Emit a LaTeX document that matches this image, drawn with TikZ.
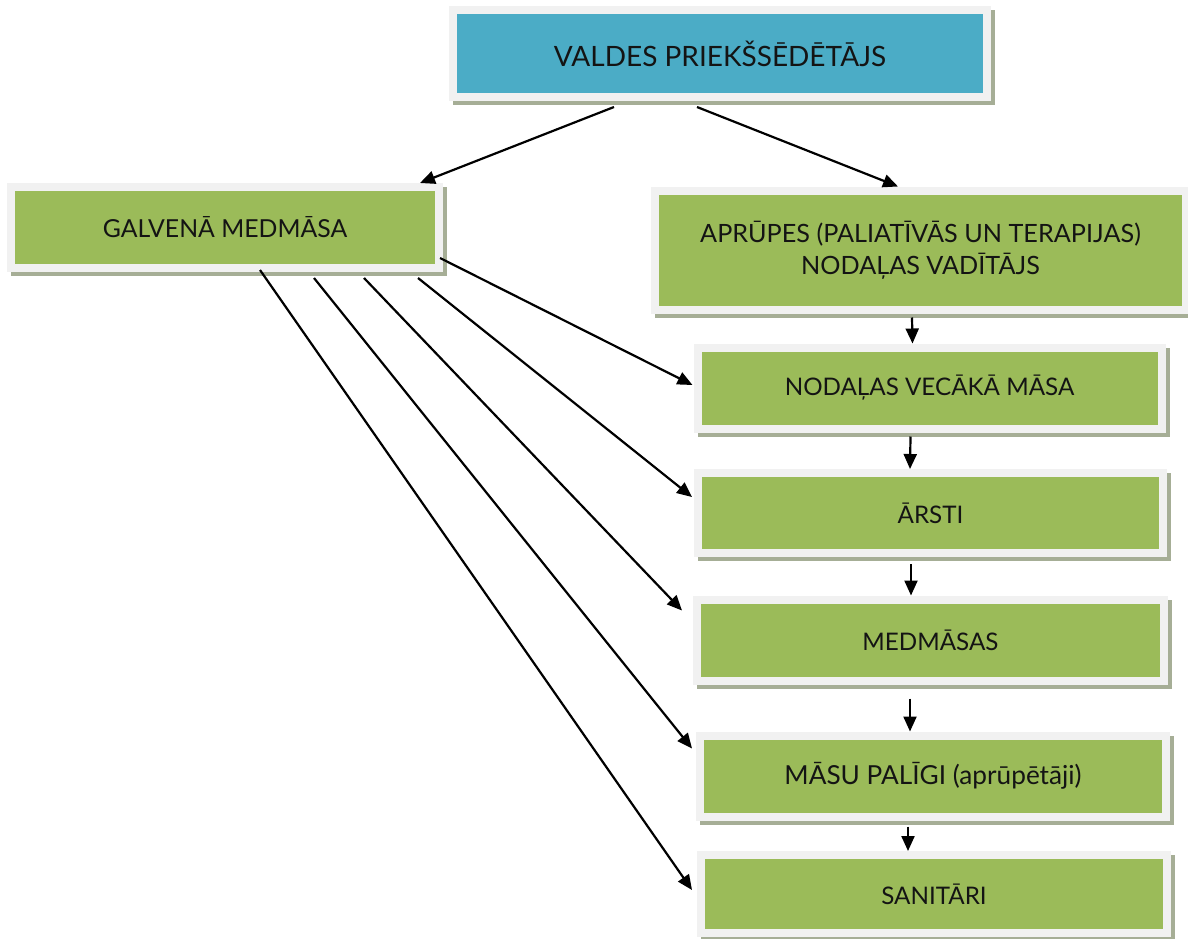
\documentclass[tikz,border=0pt]{standalone}
\usepackage{fontspec}
\setmainfont{Lato}
\usetikzlibrary{arrows.meta,shadows,calc}
\definecolor{boxgreen}{RGB}{155,187,89}
\definecolor{boxblue}{RGB}{75,172,198}
\definecolor{framegray}{RGB}{241,241,241}
\definecolor{shadowgray}{RGB}{166,174,150}
\definecolor{txt}{RGB}{20,20,20}
\begin{document}
\begin{tikzpicture}[x=1pt,y=-1pt,
  orgbox/.style={draw=framegray, line width=8pt, fill=boxgreen, text=txt,
    font=\fontsize{24}{32}\selectfont, align=center, inner sep=0pt,
    drop shadow={shadow xshift=4pt, shadow yshift=-4pt, fill=shadowgray, draw=shadowgray, line width=8pt, opacity=1}},
  fs/.style={font=\fontsize{#1}{32}\selectfont},
  arr/.style={line width=2.2pt, -{Triangle[length=15pt,width=13pt]}}
]
\useasboundingbox (0,0) rectangle (1188,939);
% boxes: center, size = outer - 8
\node[orgbox, fill=boxblue, fs=28, minimum width=534pt, minimum height=87pt] (top) at (720,53.5) {VALDES PRIEKŠSĒDĒTĀJS};
\node[orgbox, fs=24.8, minimum width=428pt, minimum height=81pt] (g) at (225,227.5) {GALVENĀ MEDMĀSA};
\node[orgbox, fs=25.2, minimum width=531pt, minimum height=119pt] (a) at (920.5,250) {APRŪPES (PALIATĪVĀS UN TERAPIJAS)\\NODAĻAS VADĪTĀJS};
\node[orgbox, fs=24.2, minimum width=464pt, minimum height=81pt] (v) at (929.5,388) {NODAĻAS VECĀKĀ MĀSA};
\node[orgbox, fs=24.2, minimum width=465pt, minimum height=80pt] (r) at (930.5,513) {ĀRSTI};
\node[orgbox, fs=24.2, minimum width=467pt, minimum height=81pt] (m) at (930.5,640) {MEDMĀSAS};
\node[orgbox, fs=26.2, minimum width=466pt, minimum height=81pt] (p) at (933,776) {MĀSU PALĪGI (aprūpētāji)};
\node[orgbox, fs=24.2, minimum width=466pt, minimum height=78pt] (s) at (934,894) {SANITĀRI};
% top arrows
\draw[arr] ($(top.south west)+(165,6)$) -- ($(g.north west)+(413,0)$);
\draw[arr] ($(top.south west)+(248,6)$) -- ($(a.north west)+(247,0)$);
% vertical chain
\draw[arr] ($(a.south west)+(261,4)$) -- ($(v.north west)+(219,0)$);
\draw[arr] ($(v.south west)+(217,4)$) -- ($(r.north west)+(216,0)$);
\draw[arr] ($(r.south west)+(217,7)$) -- ($(m.north west)+(218,0)$);
\draw[arr] ($(m.south west)+(217,14)$) -- ($(p.north west)+(214,0)$);
\draw[arr] ($(p.south west)+(212,6)$) -- ($(s.north west)+(211,0)$);
% from galvenā
\draw[arr] ($(g.south east)+(-3,-14)$) -- ($(v.west)+(-1,-3)$);
\draw[arr] ($(g.south west)+(411,6)$) -- ($(r.west)+(-2,-16)$);
\draw[arr] ($(g.south west)+(357,6)$) -- ($(m.north west)+(-11,15)$);
\draw[arr] ($(g.south west)+(307,6)$) -- ($(p.north west)+(-4,17)$);
\draw[arr] ($(g.south west)+(253,-2)$) -- ($(s.west)+(-5,-4)$);
\end{tikzpicture}
\end{document}
